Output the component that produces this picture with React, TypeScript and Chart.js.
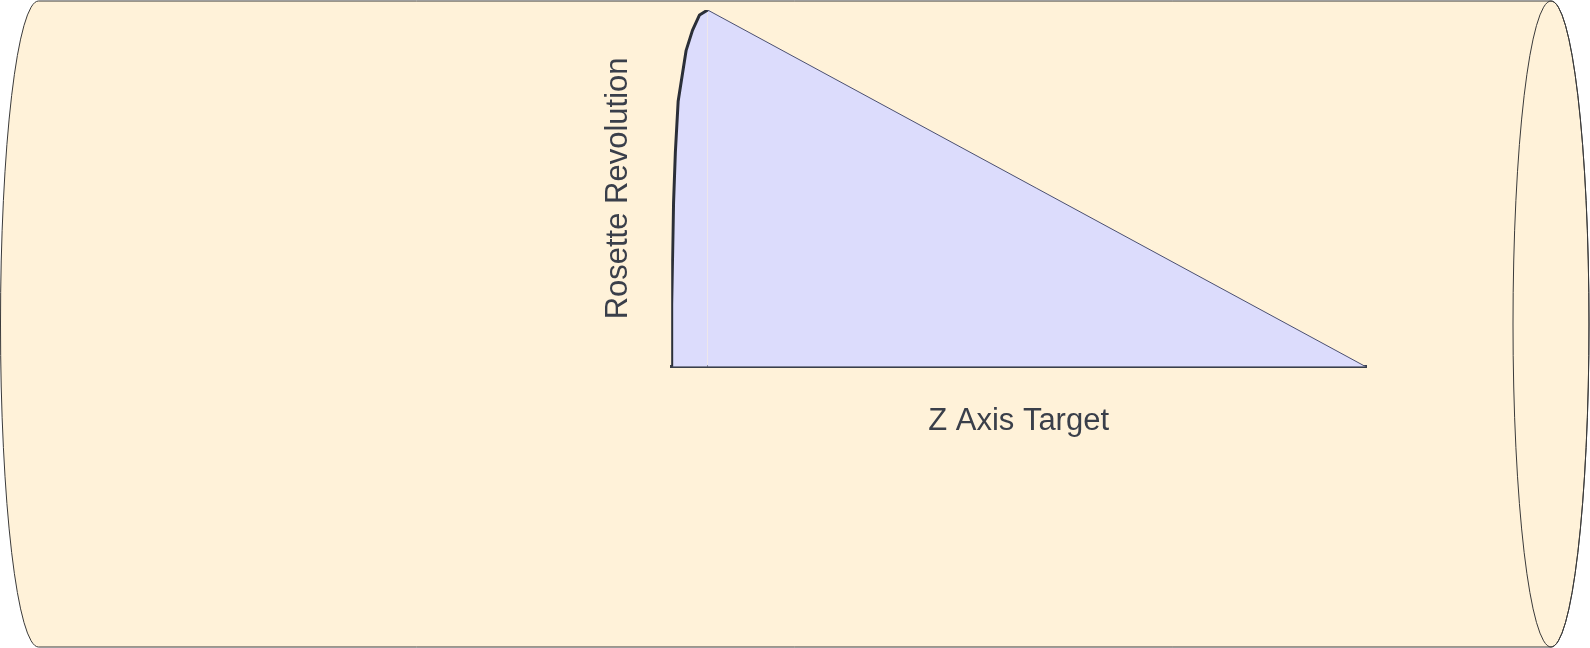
import { useEffect, useRef } from 'react'
import { Chart, registerables } from 'chart.js'

Chart.register(...registerables)

const zTarget = [0, 0.07, 0.34, 0.6, 1.0, 2.14, 3.06, 4.08, 5.25, 100]
const revolution = [0, 17.6, 46, 60.2, 74.4, 88.6, 94.3, 98.6, 100, 0]

const cylinder = {
  id: 'cylinder',
  beforeDraw(chart: Chart) {
    const { ctx } = chart
    ctx.save()
    ctx.fillStyle = '#fff2d9'
    ctx.strokeStyle = '#3a3a3a'
    ctx.lineWidth = 1
    ctx.beginPath()
    ctx.moveTo(38.5, 1)
    ctx.lineTo(1551, 1)
    ctx.ellipse(1551, 324, 38, 323, 0, -Math.PI / 2, Math.PI / 2)
    ctx.lineTo(38.5, 647)
    ctx.ellipse(38.5, 324, 38, 323, 0, Math.PI / 2, Math.PI * 1.5)
    ctx.closePath()
    ctx.fill()
    ctx.stroke()
    ctx.beginPath()
    ctx.ellipse(1551, 324, 38, 323, 0, 0, Math.PI * 2)
    ctx.stroke()
    ctx.restore()
  },
}

export default function App() {
  const ref = useRef<HTMLCanvasElement>(null)

  useEffect(() => {
    document.body.style.margin = '0'
    if (!ref.current) return
    const last = zTarget.length - 2
    const chart = new Chart(ref.current, {
      type: 'line',
      data: {
        datasets: [
          {
            data: zTarget.map((x, i) => ({ x, y: revolution[i] })),
            backgroundColor: '#dcdcfc',
            borderColor: '#2b2f38',
            borderWidth: 3,
            borderJoinStyle: 'round',
            fill: 'origin',
            pointRadius: 0,
            tension: 0,
            segment: {
              borderWidth: (c: any) => (c.p0DataIndex === last ? 1 : 3),
              borderColor: (c: any) => (c.p0DataIndex === last ? '#4b5070' : '#2b2f38'),
            },
          },
        ],
      },
      options: {
        responsive: false,
        animation: false,
        layout: { padding: { left: 574, right: 224, top: 10, bottom: 180 } },
        plugins: { legend: { display: false }, tooltip: { enabled: false } },
        scales: {
          x: {
            type: 'linear',
            min: 0,
            max: 100,
            grid: { display: false },
            ticks: { display: false },
            border: { display: true, color: '#3a3f4a', width: 3 },
            title: {
              display: true,
              text: 'Z Axis Target',
              color: '#3a3f4a',
              font: { family: 'Liberation Sans', size: 31 },
              padding: 28,
            },
          },
          y: {
            min: 0,
            max: 100,
            grid: { display: false },
            ticks: { display: false },
            border: { display: false },
            title: {
              display: true,
              text: 'Rosette Revolution',
              color: '#3a3f4a',
              font: { family: 'Liberation Sans', size: 31 },
              padding: 26,
            },
          },
        },
      },
      plugins: [cylinder],
    })
    return () => chart.destroy()
  }, [])

  return <canvas ref={ref} width={1590} height={648} style={{ display: 'block' }} />
}
